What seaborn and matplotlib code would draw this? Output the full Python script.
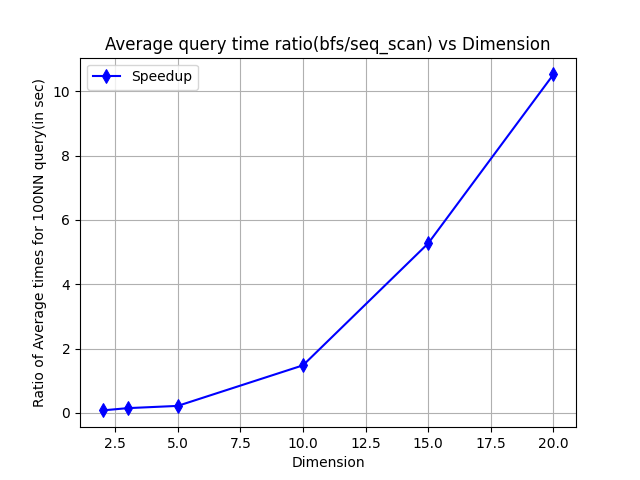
import matplotlib
matplotlib.use("Agg")
import matplotlib.pyplot as plt
import seaborn as sns
import pandas as pd

dimensions = [2, 3, 5, 10, 15, 20]
speedup = [0.08, 0.15, 0.22, 1.48, 5.27, 10.52]

df = pd.DataFrame({"Dimension": dimensions, "Speedup": speedup})

fig, ax = plt.subplots(figsize=(6.4, 4.8), dpi=100)
sns.lineplot(data=df, x="Dimension", y="Speedup", marker="d", markersize=7,
             color="blue", markeredgecolor="blue", label="Speedup", ax=ax)
ax.grid(True)
ax.set_title("Average query time ratio(bfs/seq_scan) vs Dimension")
ax.set_xlabel("Dimension")
ax.set_ylabel("Ratio of Average times for 100NN query(in sec)")
ax.legend(loc="upper left")
fig.savefig("out.png")
